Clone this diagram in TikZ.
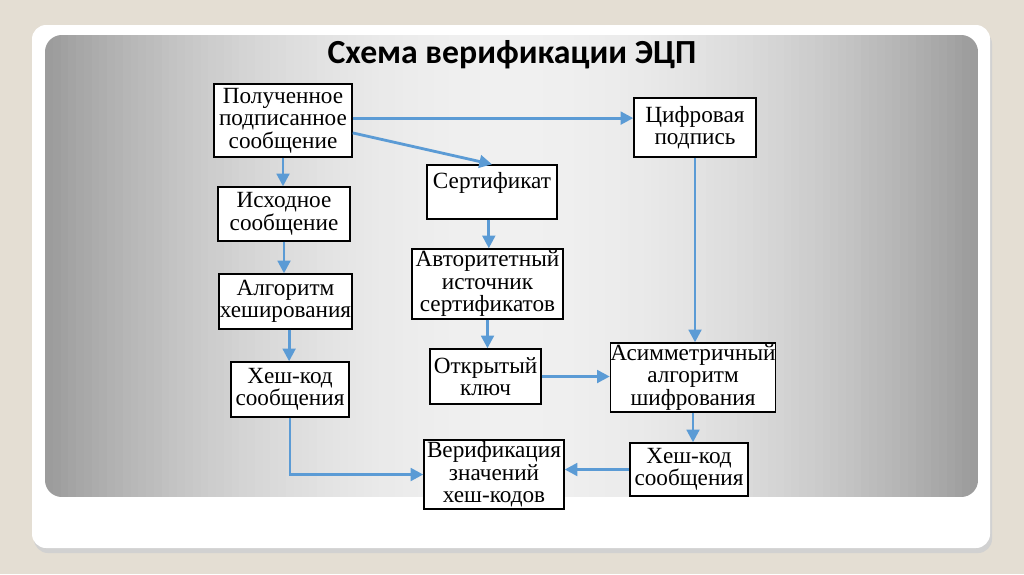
\documentclass[tikz,border=0pt]{standalone}
\usepackage{fontspec}
\setmainfont{Liberation Serif}
\newfontfamily\titlefont{Carlito}
\usetikzlibrary{arrows.meta,calc}
\definecolor{pagebg}{HTML}{E4DED3}
\definecolor{arrblue}{HTML}{5B9BD5}
\definecolor{paneldark}{HTML}{9A9A9A}
\definecolor{panellight}{HTML}{F0F0F0}
\tikzset{
  box/.style={draw=black, line width=1pt, fill=white, align=center, inner sep=0pt,
    font=\fontsize{16.5}{16}\selectfont},
  wh/.style 2 args={minimum width=#1*0.025cm, minimum height=#2*0.025cm},
  arr/.style={draw=arrblue, line width=2pt, -{Triangle[length=9pt,width=9pt]}},
}
\begin{document}
\begin{tikzpicture}[x=0.025cm,y=-0.025cm]
\useasboundingbox (0,0) rectangle (1024,574);
\fill[pagebg] (0,0) rectangle (1024,574);
% card shadow
\fill[black!18, rounded corners=10] (34,30) rectangle (992,553);
\fill[white, rounded corners=10] (32,25) rectangle (990,548);
% grey panel with horizontal gradient
\begin{scope}
\clip[rounded corners=12] (45,35) rectangle (978,497);
\foreach \i in {0,...,119} {
  \pgfmathsetmacro\t{abs((\i+0.5)/120*2-1)}
  \pgfmathsetmacro\p{100*\t*\t}
  \pgfmathsetmacro\xa{45+7.775*\i}
  \pgfmathsetmacro\xb{45+7.775*(\i+1)+0.6}
  \fill[paneldark!\p!panellight] (\xa,35) rectangle (\xb,497);
}
\end{scope}
\node[font=\titlefont\bfseries\fontsize{24}{28}\selectfont] (title) at (512,55) {Схема верификации ЭЦП};
% boxes
\node[box, wh={138}{73}] (n1) at (283,120.5) {Полученное\\подписанное\\сообщение};
\node[box, wh={132}{54}] (n2) at (284,214) {Исходное\\сообщение};
\node[box, wh={130}{54}] (n3) at (492,192) {Сертификат\\\mbox{}};
\node[box, wh={122}{59}] (n4) at (695,127.5) {Цифровая\\подпись};
\node[box, wh={133}{55}] (n5) at (285.5,301.5) {Алгоритм\\хеширования};
\node[box, wh={151}{70}] (n6) at (487.5,284) {Авторитетный\\источник\\сертификатов};
\node[box, wh={118}{55}] (n7) at (290,389.5) {Хеш-код\\сообщения};
\node[box, wh={111}{55}] (n8) at (485.5,376.5) {Открытый\\ключ};
\node[box, wh={140}{69}] (n9) at (494,474.5) {Верификация\\значений\\хеш-кодов};
\node[box, wh={162}{69}] (n10) at (693,377.5) {Асимметричный\\алгоритм\\шифрования};
\node[box, wh={118}{53}] (n11) at (689,469.5) {Хеш-код\\сообщения};
% arrows
\draw[arr] ([yshift=0.06cm]n1.east) -- ([yshift=0.06cm]n1.east -| n4.west);
\draw[arr] ([yshift=-0.31cm]n1.east) -- (n3.north);
\draw[arr] (n1.south) -- (n1.south |- n2.north);
\draw[arr] (n2.south) -- (n2.south |- n5.north);
\draw[arr] ([xshift=0.09cm]n5.south) -- ([xshift=0.09cm]n5.south |- n7.north);
\draw[arr] ([xshift=-0.08cm]n3.south) -- ([xshift=-0.08cm]n3.south |- n6.north);
\draw[arr] (n6.south) -- (n6.south |- n8.north);
\draw[arr] (n8.east) -- (n8.east -| n10.west);
\draw[arr] (n4.south) -- (n4.south |- n10.north);
\draw[arr] (n10.south) -- (n10.south |- n11.north);
\draw[arr] (n11.west) -- (n11.west -| n9.east);
\draw[arr] (n7.south) |- (n9.west);
\end{tikzpicture}
\end{document}
